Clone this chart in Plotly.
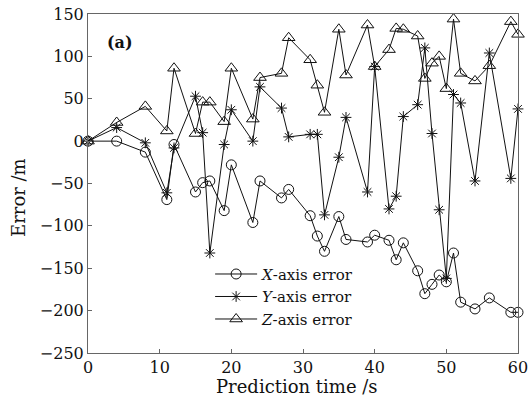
import plotly.graph_objects as go

# Prediction time (s)
t = [0, 4, 8, 11, 12, 15, 16, 17, 19, 20, 23, 24, 27, 28, 31, 32, 33, 35, 36,
     39, 40, 42, 43, 44, 46, 47, 48, 49, 50, 51, 52, 54, 56, 59, 60]

x_err = [0, 0, -13, -69, -4, -60, -49, -47, -82, -28, -96, -47, -67, -57, -88,
         -112, -130, -89, -116, -119, -111, -117, -140, -120, -153, -180, -169,
         -158, -166, -132, -190, -198, -185, -202, -202]

y_err = [0, 16, -2, -61, -8, 53, 10, -132, -4, 37, 0, 64, 39, 5, 8, 8, -87, -19,
         28, -60, 88, -80, -65, 29, 43, 110, 9, -81, -162, 55, 45, -47, 104, -44, 38]

z_err = [0, 22, 41, 12, 86, 9, 46, 46, 23, 86, 26, 75, 80, 122, 96, 66, 34, 132,
         78, 137, 88, 108, 133, 132, 124, 74, 92, 100, 62, 144, 80, 71, 89, 141, 126]

names = ["<i>X</i>-axis error", "<i>Y</i>-axis error", "<i>Z</i>-axis error"]
x_ticks = [0, 10, 20, 30, 40, 50, 60]
y_ticks = [-250, -200, -150, -100, -50, 0, 50, 100, 150]

FONT = "DejaVu Serif"
fig = go.Figure()
series = [(x_err, "circle-open", 10), (y_err, "asterisk-open", 9), (z_err, "triangle-up-open", 11)]
for (vals, sym, sz), nm in zip(series, names):
    fig.add_trace(go.Scatter(
        x=t, y=vals, name=nm, mode="lines+markers",
        line=dict(color="#111", width=1),
        marker=dict(symbol=sym, size=sz, color="#111", line=dict(color="#111", width=1)),
        cliponaxis=False,
    ))

axis_common = dict(showgrid=False, zeroline=False, showline=True, linecolor="#666",
                   linewidth=1, mirror=True, ticks="inside", ticklen=4, tickcolor="#666",
                   automargin=False,
                   tickfont=dict(family=FONT, size=16, color="#111"))
fig.update_xaxes(range=[0, 60], tickvals=x_ticks, **axis_common)
fig.update_yaxes(range=[-250, 150], tickvals=y_ticks, **axis_common)

fig.update_layout(
    width=530, height=404,
    margin=dict(l=88, r=12, t=14, b=51),
    plot_bgcolor="white", paper_bgcolor="white",
    font=dict(family=FONT, size=16, color="#111"),
    showlegend=True,
    legend=dict(x=0.284, y=0.281, xanchor="left", yanchor="top",
                bgcolor="rgba(0,0,0,0)", borderwidth=0, itemwidth=42,
                font=dict(family=FONT, size=15, color="#111"), tracegroupgap=0),
    annotations=[
        dict(text="<b>(a)</b>", x=0.0744, y=0.9145, xref="paper", yref="paper",
             showarrow=False, font=dict(family=FONT, size=16, color="#111"),
             xanchor="center", yanchor="middle"),
        dict(text="Prediction time /s", x=0.486, y=-0.1, xref="paper", yref="paper",
             showarrow=False, font=dict(family=FONT, size=18, color="#111"),
             xanchor="center", yanchor="middle"),
        dict(text="Error /m", x=-0.163, y=0.46, xref="paper", yref="paper",
             showarrow=False, textangle=-90, font=dict(family=FONT, size=18, color="#111"),
             xanchor="center", yanchor="middle"),
    ],
)

fig.write_html("out.html")
